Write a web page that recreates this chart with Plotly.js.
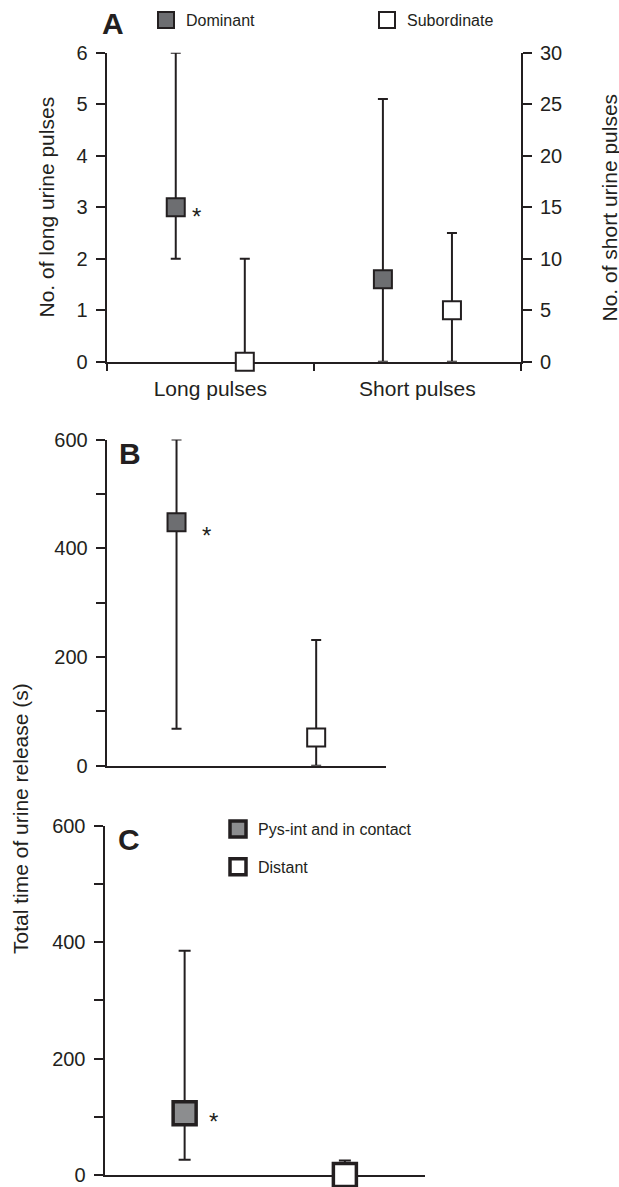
<!DOCTYPE html>
<html>
<head>
<meta charset="utf-8">
<script src="https://cdn.plot.ly/plotly-3.0.1.min.js"></script>
<style>html,body{margin:0;padding:0;background:#fff;}#chart{width:619px;height:1187px;}</style>
</head>
<body>
<div id="chart"></div>
<script>
// ---------- data ----------
const categoriesA = ['Long pulses', 'Short pulses'];
const groupsA = ['Dominant', 'Subordinate'];
const longMean = [3, 0];
const longUpper = [6, 2];
const longLower = [2, 0];
const shortMean = [8, 5];
const shortUpper = [25.5, 12.5];
const shortLower = [0, 0];

const groupsB = ['Dominant', 'Subordinate'];
const bMean = [448, 52];
const bUpper = [600, 231];
const bLower = [68, 0];

const groupsC = ['Pys-int and in contact', 'Distant'];
const cMean = [106, 0];
const cUpper = [385, 25];
const cLower = [26, 0];

const yTicksA = [0, 1, 2, 3, 4, 5, 6];
const yTicksA2 = [0, 5, 10, 15, 20, 25, 30];
const yTicksBC = [0, 100, 200, 300, 400, 500, 600];
const yTickTextBC = ['0', '', '200', '', '400', '', '600'];

const titleA = 'No. of long urine pulses';
const titleA2 = 'No. of short urine pulses';
const titleBC = 'Total time of urine release (s)';

// ---------- style ----------
const INK = '#231f20';
const FONT = 'Liberation Sans, Arial, Helvetica, sans-serif';
const fillsA = ['#6d6e71', '#ffffff'];
const fillsC = ['#8c8d8f', '#ffffff'];

function err(mean, up, lo, i, w) {
  return {type: 'data', symmetric: false, array: [up[i] - mean[i]], arrayminus: [mean[i] - lo[i]],
          color: INK, thickness: 2, width: w, visible: true};
}

const traces = [];
// Panel A
groupsA.forEach((g, gi) => {
  traces.push({
    type: 'scatter', mode: 'markers', name: g, legendgroup: g, showlegend: true, legend: 'legend',
    x: [0 * 3 + gi + 1], y: [longMean[gi]], xaxis: 'x', yaxis: 'y', cliponaxis: false,
    marker: {symbol: 'square', size: 18, color: fillsA[gi], line: {color: INK, width: 2}},
    error_y: err(longMean, longUpper, longLower, gi, 5), hoverinfo: 'skip'
  });
  traces.push({
    type: 'scatter', mode: 'markers', name: g, legendgroup: g, showlegend: false,
    x: [1 * 3 + gi + 1], y: [shortMean[gi]], xaxis: 'x', yaxis: 'y2', cliponaxis: false,
    marker: {symbol: 'square', size: 18, color: fillsA[gi], line: {color: INK, width: 2}},
    error_y: err(shortMean, shortUpper, shortLower, gi, 5), hoverinfo: 'skip'
  });
});
// Panel B
groupsB.forEach((g, gi) => {
  traces.push({
    type: 'scatter', mode: 'markers', name: g, showlegend: false,
    x: [gi * 2 + 1], y: [bMean[gi]], xaxis: 'x2', yaxis: 'y3', cliponaxis: false,
    marker: {symbol: 'square', size: 18, color: fillsA[gi], line: {color: INK, width: 2}},
    error_y: err(bMean, bUpper, bLower, gi, 5), hoverinfo: 'skip'
  });
});
// Panel C
groupsC.forEach((g, gi) => {
  traces.push({
    type: 'scatter', mode: 'markers', name: g, legendgroup: 'c' + gi, showlegend: true, legend: 'legend2',
    x: [gi * 2 + 1], y: [cMean[gi]], xaxis: 'x3', yaxis: 'y4', cliponaxis: false,
    marker: {symbol: 'square', size: 23, color: fillsC[gi], line: {color: INK, width: 3.5}},
    error_y: err(cMean, cUpper, cLower, gi, 6), hoverinfo: 'skip'
  });
});

const W = 619, H = 1187;
const px = v => v / W;
const py = v => 1 - v / H;

const yBase = {
  showline: true, linecolor: INK, linewidth: 2, ticks: 'outside', ticklen: 9, tickwidth: 2,
  tickcolor: INK, showgrid: false, zeroline: false, tickfont: {family: FONT, size: 20, color: INK},
  fixedrange: true, ticklabelstandoff: 4, automargin: false
};
const xBase = {
  showline: true, linecolor: INK, linewidth: 2, showgrid: false, zeroline: false,
  fixedrange: true, layer: 'below traces', automargin: false
};
const titleFont = {family: FONT, size: 21, color: INK};

const layout = {
  width: W, height: H, margin: {l: 0, r: 0, t: 0, b: 0, autoexpand: false},
  paper_bgcolor: '#fff', plot_bgcolor: 'rgba(0,0,0,0)',
  font: {family: FONT, color: INK},
  xaxis: Object.assign({}, xBase, {
    domain: [px(106.7), px(521)], anchor: 'y', range: [0, 6],
    tickmode: 'array', tickvals: [1.5, 4.5], ticktext: categoriesA, ticks: '',
    tickfont: {family: FONT, size: 21, color: INK}, ticklabelstandoff: 7,
    minor: {tickmode: 'array', tickvals: [0, 3, 6], ticks: 'outside', ticklen: 7, tickwidth: 2, tickcolor: INK}
  }),
  yaxis: Object.assign({}, yBase, {
    domain: [py(361.7), py(52.7)], anchor: 'x', range: [0, 6], tickmode: 'array', tickvals: yTicksA
  }),
  yaxis2: Object.assign({}, yBase, {
    overlaying: 'y', side: 'right', anchor: 'x', range: [0, 30], tickmode: 'array', tickvals: yTicksA2
  }),
  xaxis2: Object.assign({}, xBase, {
    domain: [px(106.7), px(386)], anchor: 'y3', range: [0, 4], ticks: '', showticklabels: false
  }),
  yaxis3: Object.assign({}, yBase, {
    domain: [py(765.7), py(439.5)], anchor: 'x2', range: [0, 600], tickmode: 'array',
    tickvals: yTicksBC, ticktext: yTickTextBC
  }),
  xaxis3: Object.assign({}, xBase, {
    domain: [px(104.5), px(425)], anchor: 'y4', range: [0, 4], ticks: '', showticklabels: false
  }),
  yaxis4: Object.assign({}, yBase, {
    domain: [py(1175), py(825.7)], anchor: 'x3', range: [0, 600], tickmode: 'array',
    tickvals: yTicksBC, ticktext: yTickTextBC
  }),
  legend: {
    orientation: 'h', xref: 'container', yref: 'container', x: px(146), xanchor: 'left', y: py(20), yanchor: 'middle',
    entrywidth: 176, entrywidthmode: 'pixels', bgcolor: 'rgba(0,0,0,0)', borderwidth: 0,
    font: {family: FONT, size: 16, color: INK}, itemclick: false, itemdoubleclick: false
  },
  legend2: {
    orientation: 'v', xref: 'container', yref: 'container', x: px(218), xanchor: 'left', y: py(848), yanchor: 'middle',
    tracegroupgap: 14, bgcolor: 'rgba(0,0,0,0)', borderwidth: 0,
    font: {family: FONT, size: 16, color: INK}, itemclick: false, itemdoubleclick: false
  },
  annotations: [
    {text: '<b>A</b>', xref: 'paper', yref: 'paper', x: px(112.7), y: py(21), showarrow: false,
     xanchor: 'center', yanchor: 'middle', yshift: -2, font: {family: FONT, size: 30, color: INK}},
    {text: '<b>B</b>', xref: 'paper', yref: 'paper', x: px(130), y: py(451), showarrow: false,
     xanchor: 'center', yanchor: 'middle', yshift: -2, font: {family: FONT, size: 30, color: INK}},
    {text: '<b>C</b>', xref: 'paper', yref: 'paper', x: px(129), y: py(837), showarrow: false,
     xanchor: 'center', yanchor: 'middle', yshift: -2, font: {family: FONT, size: 30, color: INK}},
    {text: '*', xref: 'x', yref: 'y', x: 1, y: longMean[0], showarrow: false, xshift: 21, yshift: -9,
     font: {family: FONT, size: 24, color: INK}},
    {text: '*', xref: 'x2', yref: 'y3', x: 1, y: bMean[0], showarrow: false, xshift: 30, yshift: -13,
     font: {family: FONT, size: 24, color: INK}},
    {text: '*', xref: 'x3', yref: 'y4', x: 1, y: cMean[0], showarrow: false, xshift: 29, yshift: -8,
     font: {family: FONT, size: 24, color: INK}},
    {text: titleA, xref: 'paper', yref: 'paper', x: px(46), y: py(207.5),
     showarrow: false, textangle: -90, xanchor: 'center', yanchor: 'middle', font: titleFont},
    {text: titleA2, xref: 'paper', yref: 'paper', x: px(609), y: py(207.5),
     showarrow: false, textangle: -90, xanchor: 'center', yanchor: 'middle', font: titleFont},
    {text: titleBC, xref: 'paper', yref: 'paper', x: px(20), y: py(819),
     showarrow: false, textangle: -90, xanchor: 'center', yanchor: 'middle', font: titleFont}
  ]
};

Plotly.newPlot('chart', traces, layout, {staticPlot: true, displayModeBar: false});
</script>
</body>
</html>
